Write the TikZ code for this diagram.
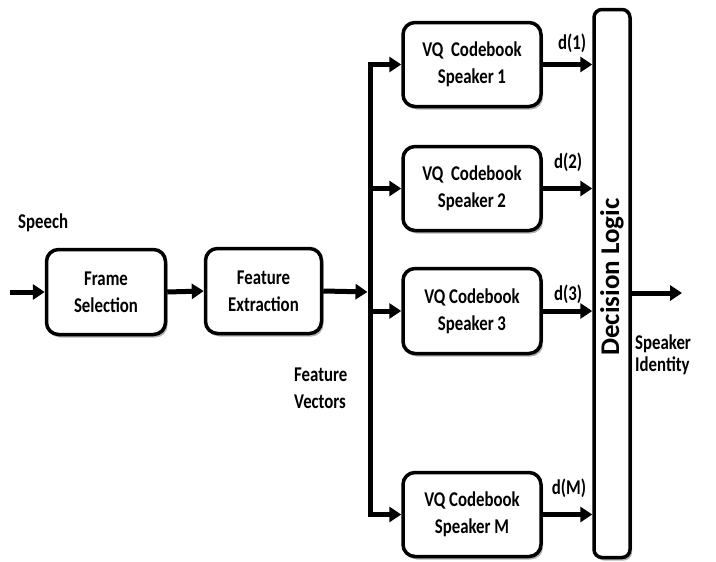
\documentclass[tikz,border=0pt]{standalone}
\usepackage{fontspec}
\setmainfont{Carlito}
\newfontfamily\condfont[FakeStretch=0.8]{Carlito}
\usetikzlibrary{arrows.meta,shadows,calc}
\begin{document}
\begin{tikzpicture}[x=1pt,y=-1pt,
  blk/.style={draw, line width=3.5pt, rounded corners=12pt, fill=white, align=center,
    font=\condfont\fontsize{21}{27}\selectfont\bfseries, inner sep=0pt,
    drop shadow={shadow xshift=2pt,shadow yshift=-3pt,fill=black,opacity=0.3}},
  arr/.style={line width=5pt, -{Triangle[length=12pt,width=15pt]}},
  lbl/.style={font=\condfont\fontsize{21}{22}\selectfont\bfseries, align=left, inner sep=0pt}
]
\useasboundingbox (0,0) rectangle (716,562);

% blocks
\node[blk, minimum width=119pt, minimum height=85pt] (fs) at (106,292) {Frame\\Selection};
\node[blk, minimum width=116pt, minimum height=85pt] (fe) at (263.5,291) {Feature\\Extraction};
\node[blk, minimum width=138pt, minimum height=84pt] (vq1) at (472,64.5) {VQ~~Codebook\\Speaker 1};
\node[blk, minimum width=138pt, minimum height=84pt] (vq2) at (472,188.5) {VQ~~Codebook\\Speaker 2};
\node[blk, minimum width=138pt, minimum height=85pt] (vq3) at (472,311) {VQ Codebook\\Speaker 3};
\node[blk, minimum width=138pt, minimum height=84pt] (vqM) at (472,514.5) {VQ Codebook\\Speaker M};
\node[blk, rounded corners=8pt, minimum width=36pt, minimum height=548pt] (dl) at (612,283.5) {};
\node[rotate=90, font=\fontsize{27}{30}\selectfont\bfseries, inner sep=0pt] (dlt) at (612,277) {Decision Logic};

% labels
\node[lbl, anchor=west] (sp) at (18,223) {Speech};
\node[lbl, anchor=west, font=\condfont\fontsize{21}{27}\selectfont\bfseries] (fv) at (294,388) {Feature\\Vectors};
\node[lbl, anchor=west] (si) at (635,355) {Speaker\\Identity};
\node[lbl] (d1) at (572,43) {d(1)};
\node[lbl] (d2) at (568,162) {d(2)};
\node[lbl] (d3) at (568,294) {d(3)};
\node[lbl] (dM) at (569,488) {d(M)};

% connectors
\coordinate (in) at (10,292);
\coordinate (bx) at (370,292);
\coordinate (out) at (682,293);

\draw[arr] (in) -- (fs.west);
\draw[arr] (fs.east) -- (fe.west);
\draw[arr, shorten >=2.5pt] (fe.east) -- (bx);

\draw[arr] (bx |- vqM.west) -- (bx |- vq1.west) -- (vq1.west);
\draw[arr] (bx |- vq3.west) -- (bx |- vqM.west) -- (vqM.west);
\draw[arr] (bx |- vq2.west) -- (vq2.west);
\draw[arr] (bx |- vq3.west) -- (vq3.west);

\draw[arr] (vq1.east) -- (vq1.east -| dl.west);
\draw[arr] (vq2.east) -- (vq2.east -| dl.west);
\draw[arr] (vq3.east) -- (vq3.east -| dl.west);
\draw[arr] (vqM.east) -- (vqM.east -| dl.west);

\draw[arr] (dl.east |- out) -- (out);
\end{tikzpicture}
\end{document}
